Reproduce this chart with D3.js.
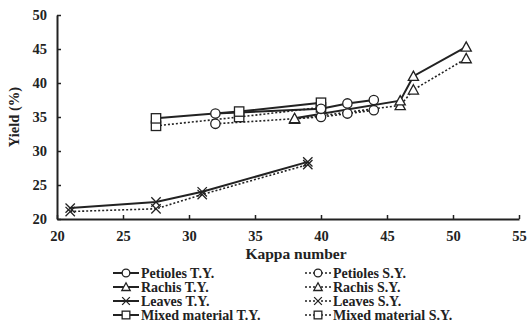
<!DOCTYPE html>
<html><head><meta charset="utf-8">
<script src="https://cdn.jsdelivr.net/npm/d3@7"></script>
<style>body{margin:0;background:#fff}svg{display:block}text{font-family:"Liberation Serif","Times New Roman",serif;font-weight:bold;fill:#222}</style>
</head><body><svg id="c" width="528" height="325"></svg>
<script>
const xTicks = [20,25,30,35,40,45,50,55];
const yTicks = [20,25,30,35,40,45,50];
const petiolesX = [32,40,42,44];
const petiolesTY = [35.5,36.2,37.0,37.5];
const petiolesSY = [34.0,35.0,35.5,36.0];
const rachisX = [38,46,47,51];
const rachisTY = [34.8,37.4,41.0,45.3];
const rachisSY = [34.7,36.7,39.0,43.6];
const leavesX = [21,27.5,31,39];
const leavesTY = [21.6,22.5,24.0,28.4];
const leavesSY = [21.1,21.5,23.6,28.0];
const mixedX = [27.5,33.8,40];
const mixedTY = [34.8,35.8,37.1];
const mixedSY = [33.7,35.0,36.4];
const seriesNames = ["Petioles T.Y.","Rachis T.Y.","Leaves T.Y.","Mixed material T.Y.","Petioles S.Y.","Rachis S.Y.","Leaves S.Y.","Mixed material S.Y."];

const series = [
 {name:seriesNames[0],xs:petiolesX,ys:petiolesTY,m:"circle",dash:false},
 {name:seriesNames[1],xs:rachisX,ys:rachisTY,m:"triangle",dash:false},
 {name:seriesNames[2],xs:leavesX,ys:leavesTY,m:"x",dash:false},
 {name:seriesNames[3],xs:mixedX,ys:mixedTY,m:"square",dash:false},
 {name:seriesNames[4],xs:petiolesX,ys:petiolesSY,m:"circle",dash:true},
 {name:seriesNames[5],xs:rachisX,ys:rachisSY,m:"triangle",dash:true},
 {name:seriesNames[6],xs:leavesX,ys:leavesSY,m:"x",dash:true},
 {name:seriesNames[7],xs:mixedX,ys:mixedSY,m:"square",dash:true}
];

const svg = d3.select("#c");
const x = d3.scaleLinear().domain([20,55]).range([57,519]);
const y = d3.scaleLinear().domain([20,50]).range([219,15]);

const xAxis = svg.append("g").attr("transform","translate(0,219)")
  .call(d3.axisBottom(x).tickValues(xTicks).tickSizeInner(4).tickSizeOuter(0).tickPadding(8));
const yAxis = svg.append("g").attr("transform","translate(57,0)")
  .call(d3.axisLeft(y).tickValues(yTicks).tickSizeInner(4).tickSizeOuter(0).tickPadding(6));
[xAxis,yAxis].forEach(a=>{
  a.select(".domain").attr("stroke","#222").attr("stroke-width",2);
  a.selectAll(".tick line").attr("stroke","#222").attr("stroke-width",1.5);
  a.selectAll("text").style("font-size","14.5px").attr("fill","#222");
});
xAxis.selectAll(".tick line").attr("y1",0).attr("y2",-4);
yAxis.selectAll(".tick line").attr("x1",0).attr("x2",4);

svg.append("text").attr("x",296).attr("y",259).attr("text-anchor","middle").style("font-size","15.5px").text("Kappa number");
svg.append("text").attr("transform","translate(19,117) rotate(-90)").attr("text-anchor","middle").style("font-size","14.5px").text("Yield (%)");

function drawMarker(g, type, cx, cy, s){
  let el;
  if(type==="circle") el = g.append("circle").attr("cx",cx).attr("cy",cy).attr("r",s*0.55);
  else if(type==="square") el = g.append("rect").attr("x",cx-s*0.55).attr("y",cy-s*0.55).attr("width",s*1.1).attr("height",s*1.1);
  else if(type==="triangle") el = g.append("path").attr("d",`M${cx},${cy-s*0.6}L${cx+s*0.6},${cy+s*0.5}L${cx-s*0.6},${cy+s*0.5}Z`);
  else el = g.append("path").attr("d",`M${cx-s*0.55},${cy-s*0.55}L${cx+s*0.55},${cy+s*0.55}M${cx-s*0.55},${cy+s*0.55}L${cx+s*0.55},${cy-s*0.55}`);
  el.attr("stroke","#222").attr("stroke-width",1.3).attr("fill",type==="x"?"none":"#fff");
  return el;
}

const line = d3.line().x(d=>x(d[0])).y(d=>y(d[1]));
const plot = svg.append("g");
series.slice().reverse().forEach(s=>{
  const pts = s.xs.map((v,i)=>[v,s.ys[i]]);
  plot.append("path").attr("d",line(pts)).attr("fill","none").attr("stroke","#222")
    .attr("stroke-width",s.dash?1.6:2).attr("stroke-dasharray",s.dash?"2,2":null);
});
series.slice().reverse().forEach(s=>{
  s.xs.forEach((v,i)=>drawMarker(plot,s.m,x(v),y(s.ys[i]),8.5));
});

// legend
const leg = svg.append("g");
series.forEach((s,i)=>{
  const col = i<4?0:1, row = i%4;
  const lx = col===0?113:305, ly = 273+row*14;
  leg.append("line").attr("x1",lx).attr("x2",lx+26).attr("y1",ly).attr("y2",ly).attr("stroke","#222")
    .attr("stroke-width",s.dash?1.6:2).attr("stroke-dasharray",s.dash?"2,2":null);
  drawMarker(leg,s.m,lx+13,ly,7);
  leg.append("text").attr("x",lx+28).attr("y",ly+5).style("font-size","14px").text(s.name);
});
</script></body></html>
